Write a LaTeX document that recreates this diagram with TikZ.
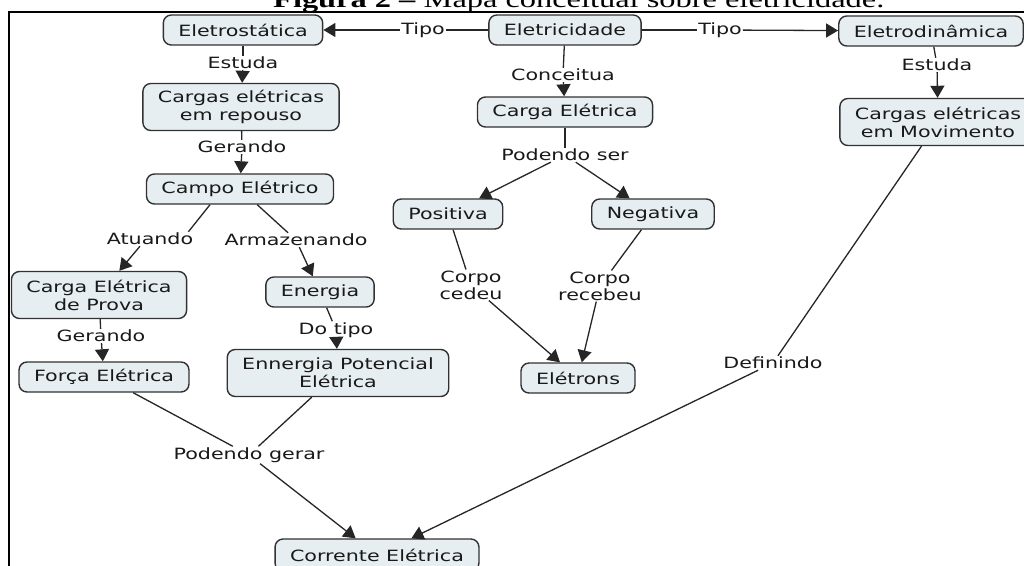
\documentclass[tikz,border=0pt]{standalone}
\usepackage{fontspec}
\setmainfont{DejaVu Sans}[FakeStretch=1.33]
\newfontfamily\titlefont{Liberation Serif}[FakeStretch=1.35]
\usetikzlibrary{arrows.meta}
\definecolor{boxfill}{RGB}{230,238,242}
\definecolor{boxdraw}{RGB}{50,50,50}
\definecolor{txt}{RGB}{25,25,25}
\tikzset{
  concept/.style={draw=boxdraw, fill=boxfill, rounded corners=8pt, line width=1.4pt,
    inner xsep=15pt, inner ysep=2pt, minimum height=30pt, align=center,
    font=\fontsize{15.5}{18}\selectfont, text=txt},
  concepttwo/.style={concept, minimum height=47pt},
  link/.style={inner sep=1pt, align=center, font=\fontsize{15.5}{17}\selectfont, text=txt},
  conn/.style={draw=black!85, line width=1.3pt},
  arr/.style={conn, -{Triangle[length=12pt,width=14pt]}},
}
\begin{document}
\begin{tikzpicture}[x=1pt,y=-1pt]
\useasboundingbox (0,0) rectangle (1024,565);
\clip (0,0) rectangle (1024,565);
\fill[white] (0,0) rectangle (1024,565);
% title (cut off at top, as in the reference)
\node[anchor=base west, inner sep=0, font=\titlefont\fontsize{24}{28}\selectfont] (title) at (273,7)
  {\textbf{Figura 2 –} Mapa conceitual sobre eletricidade.};
% frame
\coordinate (fbl) at (9,600);
\coordinate (ftl) at (9,12);
\coordinate (ftr) at (1060,12);
\draw[line width=1.5pt] (fbl) -- (ftl) -- (ftr);
% concepts and linking phrases
\node[concept] (estat) at (243,30) {Eletrostática};
\node[concept] (eletr) at (565,30) {Eletricidade};
\node[concept] (dinam) at (931,31) {Eletrodinâmica};
\node[link] (tipoL) at (423,30) {Tipo};
\node[link] (tipoR) at (720,30) {Tipo};
\node[link] (estudaL) at (243,63) {Estuda};
\node[concepttwo] (repouso) at (241,107) {Cargas elétricas\\em repouso};
\node[link] (ger1) at (242,147) {Gerando};
\node[concept] (campo) at (240,189) {Campo Elétrico};
\node[link] (atuando) at (150,239) {Atuando};
\node[link] (armaz) at (296,240) {Armazenando};
\node[concepttwo] (prova) at (99,295) {Carga Elétrica\\de Prova};
\node[concept] (energia) at (320,292) {Energia};
\node[link] (ger2) at (101,336) {Gerando};
\node[link] (dotipo) at (336,330) {Do tipo};
\node[concept] (forca) at (104,377) {Força Elétrica};
\node[concepttwo] (ennerg) at (338,373) {Ennergia Potencial\\Elétrica};
\node[link] (conceitua) at (563,75) {Conceitua};
\node[concept] (carga) at (565,112) {Carga Elétrica};
\node[link] (podser) at (565,155) {Podendo ser};
\node[concept] (pos) at (448,214) {Positiva};
\node[concept] (neg) at (653,214) {Negativa};
\node[link] (cedeu) at (471,285) {Corpo\\cedeu};
\node[link] (recebeu) at (600,286) {Corpo\\recebeu};
\node[concept] (eletrons) at (578,378) {Elétrons};
\node[link] (estudaR) at (937,65) {Estuda};
\node[concepttwo] (movim) at (938,122) {Cargas elétricas\\em Movimento};
\node[link] (definindo) at (773,363) {Definindo};
\node[link] (podgerar) at (249,455) {Podendo gerar};
\node[concept, minimum height=32pt] (corrente) at (377,555) {Corrente Elétrica};
% connectors
\draw[conn] (eletr) -- (tipoL);
\draw[arr] (tipoL) -- (estat);
\draw[conn] (eletr) -- (tipoR);
\draw[arr] (tipoR) -- (dinam);
\draw[conn] (estat) -- (estudaL);
\draw[arr] (estudaL) -- (repouso);
\draw[conn] (repouso) -- (ger1);
\draw[arr] (ger1) -- (campo);
\draw[conn] ([xshift=-30pt]campo.south) -- ([xshift=-6pt]atuando.north east);
\draw[arr] ([xshift=-10pt]atuando.south) -- (prova);
\draw[conn] (campo) -- (armaz);
\draw[arr] (armaz) -- (energia);
\draw[conn] (prova) -- (ger2);
\draw[arr] (ger2) -- (forca);
\draw[conn] (energia) -- (dotipo);
\draw[arr] (dotipo) -- (ennerg);
\draw[conn] (eletr) -- (conceitua);
\draw[arr] (conceitua) -- (carga);
\draw[conn] (carga) -- (podser);
\draw[arr] (podser) -- (pos);
\draw[arr] (podser) -- (neg);
\draw[conn] (pos) -- (cedeu);
\draw[arr] (cedeu) -- (eletrons);
\draw[conn] (neg) -- (recebeu);
\draw[arr] (recebeu) -- (eletrons);
\draw[conn] (dinam) -- (estudaR);
\draw[arr] (estudaR) -- (movim);
\draw[conn] (movim) -- (definindo);
\draw[arr] (definindo) -- (corrente);
\draw[conn] (forca) -- (podgerar);
\draw[conn] (ennerg) -- (podgerar);
\draw[arr] (podgerar) -- (corrente);
\end{tikzpicture}
\end{document}
